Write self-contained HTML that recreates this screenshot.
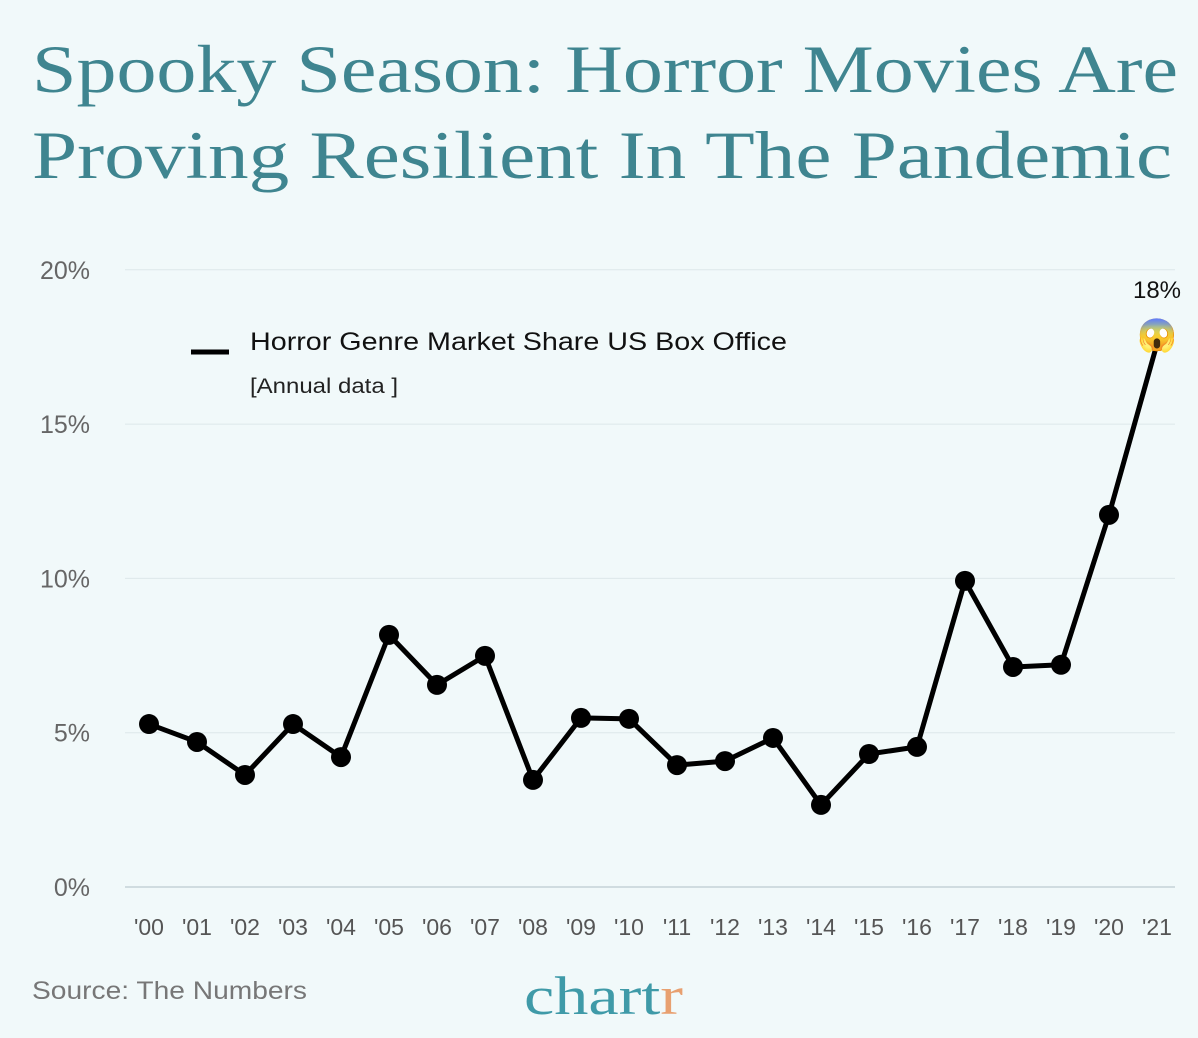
<!DOCTYPE html>
<html><head><meta charset="utf-8"><style>
html,body{margin:0;padding:0;background:#f1f9fa;}
svg{display:block;}
</style></head><body>
<svg id="chart" width="1198" height="1038" viewBox="0 0 1198 1038" xmlns="http://www.w3.org/2000/svg">
<rect width="1198" height="1038" fill="#f1f9fa"/>
<text x="32" y="92" font-family="Liberation Serif, serif" font-size="68" fill="#3f8590" textLength="1146" lengthAdjust="spacingAndGlyphs">Spooky Season: Horror Movies Are</text>
<text x="32" y="178" font-family="Liberation Serif, serif" font-size="68" fill="#3f8590" textLength="1140" lengthAdjust="spacingAndGlyphs">Proving Resilient In The Pandemic</text>
<g id="grid"></g>
<g id="plot"></g>
<g>
<line x1="191" y1="352" x2="229" y2="352" stroke="#000" stroke-width="5"/>
<text x="250" y="350" font-family="Liberation Sans, sans-serif" font-size="25" fill="#111" textLength="537" lengthAdjust="spacingAndGlyphs">Horror Genre Market Share US Box Office</text>
<text x="250" y="393" font-family="Liberation Sans, sans-serif" font-size="21" fill="#222" textLength="148" lengthAdjust="spacingAndGlyphs">[Annual data ]</text>
</g>
<text x="32" y="999" font-family="Liberation Sans, sans-serif" font-size="25" fill="#777" textLength="275" lengthAdjust="spacingAndGlyphs">Source: The Numbers</text>
<text x="524" y="1014" font-family="Liberation Serif, serif" font-size="54" fill="#3f9aa8" textLength="159" lengthAdjust="spacingAndGlyphs">chart<tspan fill="#e8a070">r</tspan></text>
</svg>
<script>
const years = ["'00","'01","'02","'03","'04","'05","'06","'07","'08","'09","'10","'11","'12","'13","'14","'15","'16","'17","'18","'19","'20","'21"];
const shareValues = [5.28,4.7,3.63,5.28,4.21,8.17,6.55,7.49,3.47,5.48,5.45,3.95,4.08,4.83,2.66,4.31,4.54,9.92,7.13,7.2,12.06,17.6];
const yTicks = [0,5,10,15,20];
const yTickLabels = ["0%","5%","10%","15%","20%"];
const endLabel = "18%";
const NS="http://www.w3.org/2000/svg";
const xScale = i => 149 + i*48;
const yScale = v => 887 - v*30.86;
const grid=document.getElementById('grid'), plot=document.getElementById('plot');
function mk(tag,attrs,parent){const e=document.createElementNS(NS,tag);for(const k in attrs)e.setAttribute(k,attrs[k]);parent.appendChild(e);return e;}
yTicks.forEach((t,i)=>{
  const l=mk('line',{x1:125,x2:1175,y1:yScale(t),y2:yScale(t),stroke:t===0?'#c5d3d8':'#dde8ea','stroke-width':t===0?1.5:1},grid);
  
  
  const tx=mk('text',{x:90,y:yScale(t)+9,'text-anchor':'end','font-family':'Liberation Sans, sans-serif','font-size':25,fill:'#666'},grid);
  tx.textContent=yTickLabels[i];
  
  
});
years.forEach((y,i)=>{
  const tx=mk('text',{x:xScale(i),y:935,'text-anchor':'middle','font-family':'Liberation Sans, sans-serif','font-size':23,fill:'#555'},grid);
  tx.textContent=y;
  
  
});
const pts=shareValues.map((v,i)=>xScale(i)+','+yScale(v)).join(' ');
const line=mk('polyline',{points:pts,fill:'none',stroke:'#000','stroke-width':5,'stroke-linejoin':'round'},plot);


shareValues.forEach((v,i)=>{
  if(i===shareValues.length-1)return;
  const c=mk('circle',{cx:xScale(i),cy:yScale(v),r:10,fill:'#000'},plot);
  
  
});
const li=shareValues.length-1;
const emo=mk('text',{x:xScale(li),y:yScale(shareValues[li])+2,'text-anchor':'middle','font-size':32,'font-family':'sans-serif'},plot);
emo.textContent='😱';


const el=mk('text',{x:xScale(li),y:298,'text-anchor':'middle','font-family':'Liberation Sans, sans-serif','font-size':24,fill:'#111'},plot);
el.textContent=endLabel;


</script>
</body></html>
